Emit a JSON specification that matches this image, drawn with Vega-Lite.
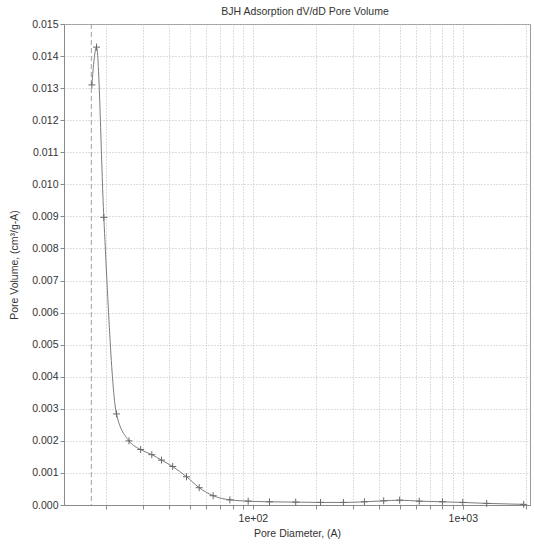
{
  "$schema": "https://vega.github.io/schema/vega-lite/v6.json",
  "autosize": {"type": "none"},
  "padding": {"left": 64, "top": 24, "right": 4, "bottom": 40},
  "width": 466,
  "height": 481,
  "background": "white",
  "title": {"text": "BJH Adsorption dV/dD Pore Volume", "fontSize": 10.5, "fontWeight": "normal", "font": "Liberation Sans", "color": "#333333", "offset": 2, "dx": 8},
  "config": {
    "view": {"stroke": "#9a9a9a", "strokeWidth": 1},
    "axis": {"labelFont": "Liberation Sans", "titleFont": "Liberation Sans", "labelFontSize": 10.5, "titleFontSize": 10.5, "titleFontWeight": "normal", "labelColor": "#333333", "titleColor": "#333333", "domainColor": "#8a8a8a", "tickColor": "#8a8a8a", "gridColor": "#bdbdbd", "gridDash": [1, 2], "gridWidth": 1, "tickSize": 4}
  },
  "datasets": {
    "pores": [
      {"d": 17.1, "v": 0.01310},
      {"d": 18.0, "v": 0.01428},
      {"d": 19.5, "v": 0.00897},
      {"d": 22.4, "v": 0.00284},
      {"d": 25.7, "v": 0.00200},
      {"d": 29.2, "v": 0.00173},
      {"d": 33.0, "v": 0.00157},
      {"d": 36.7, "v": 0.00140},
      {"d": 41.5, "v": 0.00120},
      {"d": 48.3, "v": 0.00088},
      {"d": 55.5, "v": 0.00054},
      {"d": 64.7, "v": 0.00029},
      {"d": 77.7, "v": 0.00016},
      {"d": 95, "v": 0.00012},
      {"d": 120, "v": 0.00010},
      {"d": 160, "v": 0.00009},
      {"d": 210, "v": 0.00008},
      {"d": 270, "v": 0.00008},
      {"d": 340, "v": 0.00010},
      {"d": 420, "v": 0.00013},
      {"d": 500, "v": 0.00015},
      {"d": 620, "v": 0.00012},
      {"d": 800, "v": 0.00010},
      {"d": 1000, "v": 0.00008},
      {"d": 1300, "v": 0.00005},
      {"d": 1950, "v": 0.00002}
    ],
    "marker": [{"d": 17.0}]
  },
  "layer": [
    {
      "data": {"name": "marker"},
      "mark": {"type": "rule", "color": "#a0a0a0", "strokeDash": [5, 3], "strokeWidth": 1},
      "encoding": {
        "x": {"field": "d", "type": "quantitative", "scale": {"type": "log", "domain": [12.6, 2090], "nice": false},
          "axis": {"title": "Pore Diameter, (A)", "values": [20, 30, 40, 50, 60, 70, 80, 90, 100, 200, 300, 400, 500, 600, 700, 800, 900, 1000, 2000],
            "labelExpr": "datum.value == 100 ? '1e+02' : (datum.value == 1000 ? '1e+03' : '')", "labelPadding": 4, "titlePadding": 5, "labelOverlap": false}}
      }
    },
    {
      "data": {"name": "pores"},
      "mark": {"type": "line", "color": "#7c7c7c", "strokeWidth": 1, "interpolate": "monotone"},
      "encoding": {
        "x": {"field": "d", "type": "quantitative", "scale": {"type": "log", "domain": [12.6, 2090], "nice": false},
          "axis": {"title": "Pore Diameter, (A)", "values": [20, 30, 40, 50, 60, 70, 80, 90, 100, 200, 300, 400, 500, 600, 700, 800, 900, 1000, 2000],
            "labelExpr": "datum.value == 100 ? '1e+02' : (datum.value == 1000 ? '1e+03' : '')", "labelPadding": 4, "titlePadding": 5, "labelOverlap": false}},
        "y": {"field": "v", "type": "quantitative", "scale": {"domain": [0, 0.015], "nice": false},
          "axis": {"title": "Pore Volume, (cm³/g-A)", "values": [0, 0.001, 0.002, 0.003, 0.004, 0.005, 0.006, 0.007, 0.008, 0.009, 0.010, 0.011, 0.012, 0.013, 0.014, 0.015], "format": ".3f", "labelPadding": 2, "titlePadding": 12, "labelOverlap": false}}
      }
    },
    {
      "data": {"name": "pores"},
      "mark": {"type": "point", "shape": "M-1,0L1,0M0,-1L0,1", "filled": false, "stroke": "#6a6a6a", "strokeWidth": 1, "size": 49, "opacity": 1},
      "encoding": {
        "x": {"field": "d", "type": "quantitative", "scale": {"type": "log", "domain": [12.6, 2090], "nice": false},
          "axis": {"title": "Pore Diameter, (A)", "values": [20, 30, 40, 50, 60, 70, 80, 90, 100, 200, 300, 400, 500, 600, 700, 800, 900, 1000, 2000],
            "labelExpr": "datum.value == 100 ? '1e+02' : (datum.value == 1000 ? '1e+03' : '')", "labelPadding": 4, "titlePadding": 5, "labelOverlap": false}},
        "y": {"field": "v", "type": "quantitative", "scale": {"domain": [0, 0.015], "nice": false},
          "axis": {"title": "Pore Volume, (cm³/g-A)", "values": [0, 0.001, 0.002, 0.003, 0.004, 0.005, 0.006, 0.007, 0.008, 0.009, 0.010, 0.011, 0.012, 0.013, 0.014, 0.015], "format": ".3f", "labelPadding": 2, "titlePadding": 12, "labelOverlap": false}}
      }
    }
  ]
}
